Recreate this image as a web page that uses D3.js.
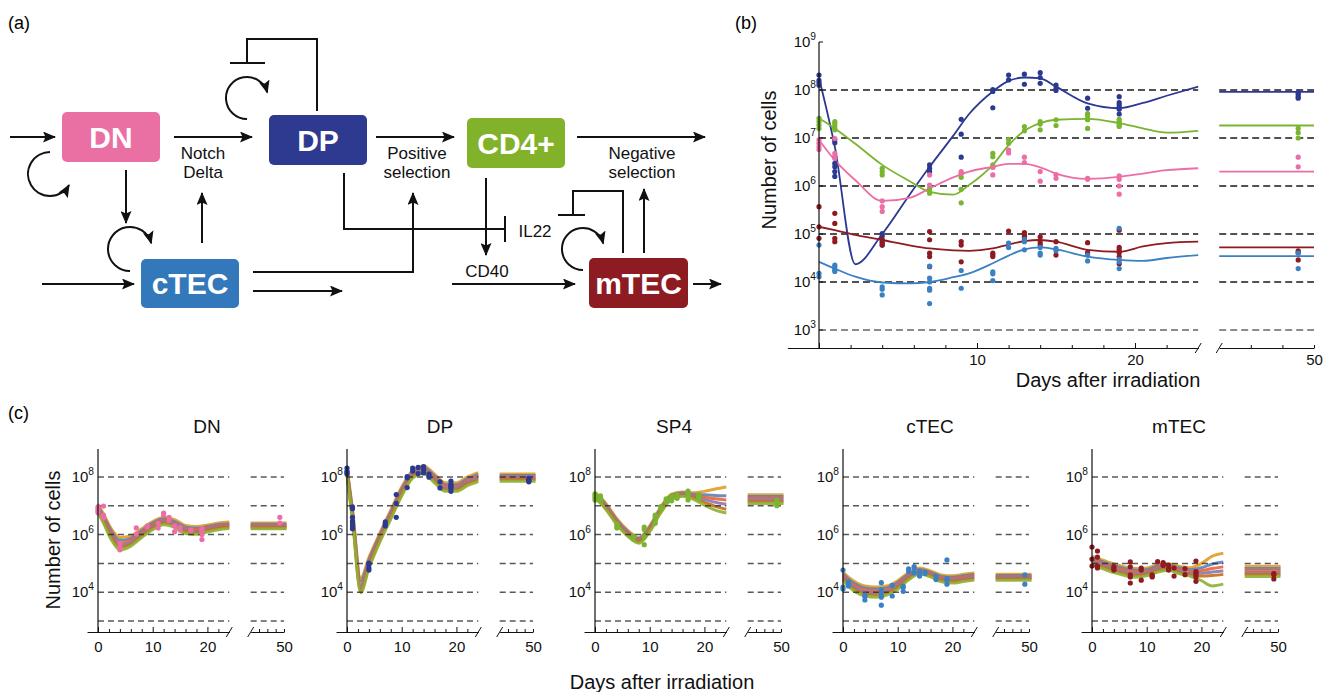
<!DOCTYPE html>
<html>
<head>
<meta charset="utf-8">
<script src="https://cdn.jsdelivr.net/npm/d3@7"></script>
<style>
  body { margin: 0; background: #fff; }
  svg { font-family: "Liberation Sans", Arial, sans-serif; }
</style>
</head>
<body>
<svg id="fig" width="1323" height="692"></svg>
<script>
// Thymus recovery figure: (a) scheme, (b) fitted model, (c) ensemble fits.
// All cell counts are stored as log10 values.

// ── Panel (b): fitted curves ────────────────────────────────────────────────
const FIT_DAYS = [0, 1, 2.3, 4, 5.8, 7, 8.5, 9.5, 11, 12, 13, 14, 15, 17, 19, 20.5, 22, 24];
const FIT_DP   = [8.25, 6.82, 4.37, 5.0, 5.85, 6.4, 7.05, 7.5, 7.97, 8.19, 8.26, 8.24, 8.07, 7.72, 7.62, 7.73, 7.88, 8.07];
const FIT_SP4  = [7.41, 7.2, 6.88, 6.44, 6.09, 5.88, 5.82, 6.02, 6.44, 6.85, 7.15, 7.31, 7.38, 7.4, 7.31, 7.2, 7.11, 7.15];
const FIT_DN   = [6.96, 6.54, 6.12, 5.69, 5.76, 5.95, 6.18, 6.3, 6.4, 6.46, 6.46, 6.39, 6.26, 6.15, 6.19, 6.26, 6.33, 6.37];
const FIT_MTEC = [5.15, 5.08, 4.98, 4.875, 4.76, 4.7, 4.66, 4.65, 4.7, 4.78, 4.85, 4.875, 4.84, 4.67, 4.63, 4.74, 4.81, 4.84];
const FIT_CTEC = [4.42, 4.28, 4.11, 3.99, 3.97, 4.0, 4.1, 4.18, 4.39, 4.55, 4.68, 4.72, 4.68, 4.53, 4.46, 4.44, 4.5, 4.56];
const FIT_LATE = { DP: 7.96, SP4: 7.26, DN: 6.30, mTEC: 4.72, cTEC: 4.54 };

// ── Measurements: [day, [log10 counts]] ────────────────────────────────────
const DOTS_DP = [
  [0, [8.31, 8.2, 8.15, 8.1]], [1, [6.96, 6.9, 6.6, 6.47, 6.4, 6.3, 6.2]], [4, [5.01, 4.96, 4.84, 4.77]],
  [7, [6.44, 6.37, 6.3]], [9, [7.39, 7.08, 6.6]], [11, [8.01, 7.97, 7.63]], [12, [8.31, 8.21]],
  [13, [8.33, 8.12]], [14, [8.36, 8.26, 8.14]], [15, [8.1, 8.03, 7.99]], [17, [7.83, 7.62]],
  [19, [7.86, 7.74, 7.69, 7.64, 7.6, 7.5]], [49, [7.95, 7.91, 7.86, 7.83]]
];
const DOTS_SP4 = [
  [0, [7.41, 7.34, 7.27, 7.2]], [1, [7.34, 7.3, 7.25, 7.2, 7.17]], [4, [6.37, 6.3, 6.23]],
  [7, [5.95, 5.88, 5.85]], [9, [6.26, 6.18, 5.93, 5.65]], [11, [6.68, 6.61, 6.44, 6.39]], [12, [6.97, 6.89]],
  [13, [7.24, 7.15]], [14, [7.34, 7.29, 7.17]], [15, [7.38, 7.26]], [17, [7.51, 7.46, 7.38, 7.2]],
  [19, [7.39, 7.34, 7.31, 7.27, 7.24]], [49, [7.2, 7.11, 7.0]]
];
const DOTS_DN = [
  [0, [6.96, 6.89, 6.82, 6.76]], [1, [6.99, 6.68, 6.6, 6.58]], [4, [5.69, 5.57, 5.47]],
  [7, [6.23, 6.02]], [9, [6.3, 6.26]], [11, [6.39, 6.23]], [12, [6.75, 6.69]],
  [13, [6.6, 6.49]], [14, [6.3, 6.1]], [15, [6.24, 6.16]], [17, [6.16, 6.14]],
  [19, [6.21, 6.14, 6.0, 5.83]], [49, [6.6, 6.4]]
];
const DOTS_MTEC = [
  [0, [5.57, 5.15, 4.91]], [1, [5.43, 5.22, 4.91, 4.84]], [4, [4.89, 4.82, 4.77]],
  [7, [5.05, 4.88, 4.6, 4.53, 4.32]], [9, [4.84, 4.77, 4.42]], [11, [4.6, 4.56, 4.53]], [12, [5.06]],
  [13, [5.03, 4.98, 4.93]], [14, [4.94, 4.82, 4.77]], [15, [4.84, 4.56]], [17, [4.82, 4.61]],
  [19, [5.08, 4.72, 4.67, 4.61, 4.53, 4.38]], [49, [4.65, 4.61, 4.46]]
];
const DOTS_CTEC = [
  [0, [4.77, 4.18, 4.11]], [1, [4.35, 4.3, 4.25, 4.22]], [4, [3.9, 3.85, 3.73]],
  [7, [4.33, 4.08, 4.0, 3.87, 3.83, 3.55]], [9, [4.24, 3.87]], [11, [4.21, 4.17, 4.03]], [12, [4.81, 4.72]],
  [13, [4.89, 4.84, 4.67]], [14, [4.72, 4.6, 4.56]], [15, [4.7, 4.65]], [17, [4.56, 4.44]],
  [19, [5.12, 4.47, 4.42, 4.28]], [49, [4.6, 4.28]]
];

// ── Panel (c): ensemble of fits (log10) ────────────────────────────────────
const ENS_DAYS = [0, 1, 2.5, 4, 6, 8, 10, 12, 14, 16, 18, 20, 22, 24];
const ENS_DN = [
  [7.05, 6.72, 6.18, 5.90, 5.95, 6.20, 6.45, 6.60, 6.52, 6.32, 6.28, 6.33, 6.40, 6.44],
  [6.98, 6.64, 6.10, 5.80, 5.87, 6.14, 6.40, 6.55, 6.45, 6.26, 6.22, 6.28, 6.35, 6.38],
  [6.92, 6.58, 6.02, 5.70, 5.80, 6.08, 6.34, 6.50, 6.40, 6.20, 6.17, 6.24, 6.31, 6.34],
  [6.88, 6.52, 5.95, 5.62, 5.73, 6.02, 6.28, 6.45, 6.36, 6.15, 6.12, 6.19, 6.27, 6.30],
  [6.82, 6.46, 5.88, 5.55, 5.66, 5.96, 6.22, 6.40, 6.30, 6.10, 6.06, 6.14, 6.22, 6.26],
  [6.76, 6.40, 5.80, 5.47, 5.60, 5.90, 6.17, 6.34, 6.25, 6.04, 6.01, 6.09, 6.17, 6.21]
];
const ENS_DP = [
  [8.35, 6.90, 4.50, 5.20, 6.05, 6.85, 7.65, 8.22, 8.38, 8.10, 7.80, 7.80, 8.00, 8.15],
  [8.28, 6.82, 4.38, 5.12, 5.98, 6.78, 7.58, 8.16, 8.32, 8.03, 7.73, 7.73, 7.93, 8.08],
  [8.22, 6.74, 4.25, 5.04, 5.92, 6.72, 7.52, 8.11, 8.27, 7.97, 7.67, 7.67, 7.87, 8.02],
  [8.16, 6.66, 4.15, 4.97, 5.86, 6.66, 7.46, 8.06, 8.22, 7.91, 7.61, 7.62, 7.82, 7.96],
  [8.10, 6.58, 4.05, 4.90, 5.80, 6.60, 7.40, 8.01, 8.17, 7.85, 7.55, 7.56, 7.76, 7.90],
  [8.04, 6.50, 3.98, 4.83, 5.74, 6.54, 7.34, 7.96, 8.12, 7.80, 7.50, 7.50, 7.70, 7.84]
];
const ENS_SP4 = [
  [7.45, 7.30, 6.95, 6.55, 6.15, 5.90, 6.30, 6.95, 7.40, 7.48, 7.45, 7.50, 7.58, 7.65],
  [7.40, 7.25, 6.90, 6.50, 6.10, 5.86, 6.26, 6.91, 7.36, 7.45, 7.40, 7.38, 7.36, 7.35],
  [7.36, 7.21, 6.86, 6.46, 6.06, 5.82, 6.22, 6.87, 7.32, 7.42, 7.36, 7.30, 7.24, 7.20],
  [7.32, 7.17, 6.82, 6.42, 6.02, 5.78, 6.18, 6.83, 7.28, 7.39, 7.32, 7.22, 7.12, 7.05],
  [7.28, 7.13, 6.78, 6.38, 5.98, 5.74, 6.14, 6.79, 7.25, 7.36, 7.27, 7.12, 6.98, 6.88],
  [7.24, 7.09, 6.74, 6.34, 5.94, 5.70, 6.10, 6.75, 7.22, 7.33, 7.22, 7.02, 6.85, 6.75]
];
const ENS_CTEC = [
  [4.70, 4.52, 4.33, 4.22, 4.18, 4.22, 4.40, 4.68, 4.84, 4.74, 4.60, 4.57, 4.62, 4.67],
  [4.64, 4.45, 4.26, 4.15, 4.11, 4.15, 4.34, 4.63, 4.79, 4.69, 4.55, 4.52, 4.57, 4.62],
  [4.58, 4.38, 4.19, 4.08, 4.04, 4.08, 4.28, 4.58, 4.75, 4.65, 4.50, 4.47, 4.52, 4.57],
  [4.52, 4.32, 4.12, 4.01, 3.97, 4.02, 4.22, 4.53, 4.71, 4.61, 4.46, 4.42, 4.47, 4.52],
  [4.46, 4.26, 4.05, 3.94, 3.90, 3.96, 4.16, 4.48, 4.67, 4.57, 4.41, 4.37, 4.42, 4.47],
  [4.40, 4.20, 3.98, 3.87, 3.83, 3.90, 4.10, 4.43, 4.63, 4.53, 4.36, 4.32, 4.37, 4.42]
];
const ENS_MTEC = [
  [5.25, 5.18, 5.08, 4.98, 4.88, 4.82, 4.84, 4.95, 4.98, 4.90, 4.85, 5.00, 5.25, 5.35],
  [5.18, 5.12, 5.02, 4.92, 4.82, 4.76, 4.78, 4.90, 4.93, 4.84, 4.78, 4.85, 4.98, 5.05],
  [5.12, 5.06, 4.96, 4.86, 4.76, 4.70, 4.72, 4.85, 4.88, 4.78, 4.71, 4.75, 4.82, 4.88],
  [5.06, 5.00, 4.90, 4.80, 4.70, 4.64, 4.67, 4.80, 4.84, 4.73, 4.65, 4.66, 4.70, 4.74],
  [5.00, 4.94, 4.84, 4.74, 4.64, 4.58, 4.62, 4.75, 4.80, 4.68, 4.60, 4.56, 4.58, 4.62],
  [4.94, 4.88, 4.78, 4.68, 4.58, 4.52, 4.57, 4.70, 4.76, 4.64, 4.55, 4.40, 4.22, 4.28]
];
const ENS_LATE_DN   = [6.40, 6.36, 6.32, 6.28, 6.24, 6.20];
const ENS_LATE_DP   = [8.10, 8.05, 8.00, 7.95, 7.90, 7.85];
const ENS_LATE_SP4  = [7.38, 7.32, 7.26, 7.20, 7.14, 7.08];
const ENS_LATE_CTEC = [4.62, 4.58, 4.54, 4.50, 4.46, 4.42];
const ENS_LATE_MTEC = [4.90, 4.82, 4.75, 4.68, 4.62, 4.55];

const DECADES = [3, 4, 5, 6, 7, 8];

// ── Styling ────────────────────────────────────────────────────────────────
const FONT = '"Liberation Sans", Arial, sans-serif';
const COLOR = { DP: "#2b3990", SP4: "#79b530", DN: "#ec6ea6", mTEC: "#8e1b21", cTEC: "#3b80c2" };
const ENS_COLORS = ["#e19c24", "#5e81b5", "#eb6235", "#8778b3", "#c56e1a", "#8fb032"];

const SERIES_B = [
  { key: "DP",   fit: FIT_DP,   dots: DOTS_DP },
  { key: "SP4",  fit: FIT_SP4,  dots: DOTS_SP4 },
  { key: "DN",   fit: FIT_DN,   dots: DOTS_DN },
  { key: "mTEC", fit: FIT_MTEC, dots: DOTS_MTEC },
  { key: "cTEC", fit: FIT_CTEC, dots: DOTS_CTEC },
];
const PANELS_C = [
  { key: "DN",   title: "DN",   ens: ENS_DN,   late: ENS_LATE_DN,   dots: DOTS_DN },
  { key: "DP",   title: "DP",   ens: ENS_DP,   late: ENS_LATE_DP,   dots: DOTS_DP },
  { key: "SP4",  title: "SP4",  ens: ENS_SP4,  late: ENS_LATE_SP4,  dots: DOTS_SP4 },
  { key: "cTEC", title: "cTEC", ens: ENS_CTEC, late: ENS_LATE_CTEC, dots: DOTS_CTEC },
  { key: "mTEC", title: "mTEC", ens: ENS_MTEC, late: ENS_LATE_MTEC, dots: DOTS_MTEC },
];
const C_AXIS_X  = [98, 347, 595, 843, 1092];
const C_TITLE_X = [207, 440, 674, 930, 1179];

const pow10 = v => Math.pow(10, v);
const svg = d3.select("#fig");

function powLabel(g, x, y, exp, size) {
  const t = g.append("text").attr("x", x).attr("y", y).attr("text-anchor", "end")
    .attr("font-size", size).attr("fill", "#111");
  t.append("tspan").text("10");
  t.append("tspan").attr("dy", -size * 0.45).attr("font-size", size * 0.68).text(exp);
}

function slash(g, x, y) {
  g.append("line").attr("x1", x - 3).attr("y1", y + 5).attr("x2", x + 3).attr("y2", y - 5)
    .attr("stroke", "#111").attr("stroke-width", 1);
}

function styleAxis(ax, size) {
  ax.attr("font-size", size).attr("font-family", FONT);
  ax.select(".domain").attr("stroke", "#111");
  ax.selectAll(".tick line").attr("stroke", "#111");
  ax.selectAll(".tick text").attr("fill", "#111");
}

// ── Panel labels ───────────────────────────────────────────────────────────
[["(a)", 8, 29], ["(b)", 735, 29], ["(c)", 8, 419]].forEach(([t, x, y]) =>
  svg.append("text").attr("x", x).attr("y", y).attr("font-size", 18).text(t));

// ── Panel (a): scheme ──────────────────────────────────────────────────────
const NODES = [
  { label: "DN",   x: 62,  y: 112, w: 98, h: 50, color: "#ea6fa3" },
  { label: "DP",   x: 269, y: 115, w: 98, h: 50, color: "#2d3a8f" },
  { label: "CD4+", x: 467, y: 118, w: 98, h: 50, color: "#82b12a" },
  { label: "cTEC", x: 141, y: 259, w: 98, h: 49, color: "#3378ba" },
  { label: "mTEC", x: 589, y: 258, w: 99, h: 50, color: "#8d1b22" },
];
const ARROWS = [
  "M10,137H55", "M174,137H252", "M126,170V223", "M42,284H134", "M202,243V193",
  "M376,137H454", "M253,272H413V193", "M253,291H342", "M486,178V255",
  "M452,284H575", "M577,137H705", "M644,253V189", "M693,284H721"
];
const INHIBITS = [
  { path: "M317,111V39H247V63", bar: [230, 63, 265, 63] },
  { path: "M623,253V191H573V215", bar: [558, 215, 585, 215] },
  { path: "M344,173V229H505", bar: [505, 216, 505, 242] },
];
// self-renewal loops: centre, radius, start/end angle (deg), sweep direction
const LOOPS = [
  { cx: 50,  cy: 174, r: 22, a0: -90, a1: 30,  sweep: 0 },
  { cx: 130, cy: 249, r: 22, a0: 90,  a1: 345, sweep: 1 },
  { cx: 247, cy: 98,  r: 21, a0: 90,  a1: 345, sweep: 1 },
  { cx: 583, cy: 249, r: 21, a0: 90,  a1: 345, sweep: 1 },
];
const SCHEME_TEXT = [
  ["Notch", 203, 159], ["Delta", 203, 178],
  ["Positive", 417, 159], ["selection", 417, 178],
  ["Negative", 642, 159], ["selection", 642, 178],
  ["CD40", 487, 277], ["IL22", 535, 237],
];

const gA = svg.append("g");
const defs = svg.append("defs");
defs.append("marker").attr("id", "ah").attr("viewBox", "0 0 13 11")
  .attr("refX", 12).attr("refY", 5.5).attr("markerWidth", 13).attr("markerHeight", 11)
  .attr("markerUnits", "userSpaceOnUse").attr("orient", "auto")
  .append("path").attr("d", "M0,0L13,5.5L0,11L2.5,5.5Z").attr("fill", "#111");

NODES.forEach(n => {
  gA.append("rect").attr("x", n.x).attr("y", n.y).attr("width", n.w).attr("height", n.h)
    .attr("rx", 5).attr("fill", n.color);
  gA.append("text").attr("x", n.x + n.w / 2).attr("y", n.y + n.h / 2 + 10.5)
    .attr("text-anchor", "middle").attr("font-size", 30).attr("font-weight", "bold")
    .attr("fill", "#fff").text(n.label);
});

ARROWS.forEach(d => gA.append("path").attr("d", d).attr("fill", "none")
  .attr("stroke", "#111").attr("stroke-width", 2).attr("marker-end", "url(#ah)"));

INHIBITS.forEach(t => {
  gA.append("path").attr("d", t.path).attr("fill", "none").attr("stroke", "#111").attr("stroke-width", 2);
  gA.append("line").attr("x1", t.bar[0]).attr("y1", t.bar[1]).attr("x2", t.bar[2]).attr("y2", t.bar[3])
    .attr("stroke", "#111").attr("stroke-width", 2);
});

LOOPS.forEach(l => {
  const rad = a => a * Math.PI / 180;
  const x0 = l.cx + l.r * Math.cos(rad(l.a0)), y0 = l.cy + l.r * Math.sin(rad(l.a0));
  const x1 = l.cx + l.r * Math.cos(rad(l.a1)), y1 = l.cy + l.r * Math.sin(rad(l.a1));
  gA.append("path").attr("d", `M${x0},${y0}A${l.r},${l.r} 0 1 ${l.sweep} ${x1},${y1}`)
    .attr("fill", "none").attr("stroke", "#111").attr("stroke-width", 2).attr("marker-end", "url(#ah)");
});

SCHEME_TEXT.forEach(([t, x, y]) => gA.append("text").attr("x", x).attr("y", y)
  .attr("text-anchor", "middle").attr("font-size", 17).attr("fill", "#111").text(t));

// ── Panel (b) ──────────────────────────────────────────────────────────────
const gB = svg.append("g");
const bY  = d3.scaleLog().domain([pow10(2.625), 1e9]).range([348, 42]);
const bX1 = d3.scaleLinear().domain([-2, 24]).range([787.4, 1198.2]);
const bX2 = d3.scaleLinear().domain([44, 50]).range([1219.2, 1314]);
const bX  = d => d > 30 ? bX2(d) : bX1(d);

DECADES.forEach(e => {
  [[0, 24, bX1], [44, 50, bX2]].forEach(([a, b, s]) => {
    gB.append("line").attr("x1", s(a)).attr("x2", s(b))
      .attr("y1", bY(pow10(e))).attr("y2", bY(pow10(e)))
      .attr("stroke", e === 3 ? "#666" : "#1a1a1a").attr("stroke-width", 1.3)
      .attr("stroke-dasharray", "7,4");
  });
});

const lineB = d3.line().x(d => bX(d[0])).y(d => bY(pow10(d[1]))).curve(d3.curveMonotoneX);
SERIES_B.forEach(s => {
  gB.append("path").datum(FIT_DAYS.map((d, i) => [d, s.fit[i]]))
    .attr("d", lineB).attr("fill", "none").attr("stroke", COLOR[s.key]).attr("stroke-width", 1.8);
  gB.append("path").datum([[44, FIT_LATE[s.key]], [50, FIT_LATE[s.key]]])
    .attr("d", lineB).attr("fill", "none").attr("stroke", COLOR[s.key]).attr("stroke-width", 1.8);
});
SERIES_B.forEach(s => {
  const pts = s.dots.flatMap(([day, vals]) => vals.map(v => [day, v]));
  gB.append("g").selectAll("circle").data(pts).join("circle")
    .attr("cx", d => bX(d[0])).attr("cy", d => bY(pow10(d[1]))).attr("r", 2.6)
    .attr("fill", COLOR[s.key]);
});

// axes (b)
gB.append("line").attr("x1", bX1(0)).attr("x2", bX1(0)).attr("y1", bY(1e9)).attr("y2", 348)
  .attr("stroke", "#111").attr("stroke-width", 1.2);
[3, 4, 5, 6, 7, 8, 9].forEach(e => {
  gB.append("line").attr("x1", bX1(0)).attr("x2", bX1(0) + 4)
    .attr("y1", bY(pow10(e))).attr("y2", bY(pow10(e))).attr("stroke", "#111");
  powLabel(gB, bX1(0) - 3, bY(pow10(e)) + 5, String(e), 15);
});

const axB1 = gB.append("g").attr("transform", "translate(0,348)")
  .call(d3.axisBottom(bX1).tickValues(d3.range(0, 24, 2)).tickSize(-3).tickSizeOuter(0)
    .tickPadding(6).tickFormat(d => (d === 10 || d === 20) ? d : ""));
const axB2 = gB.append("g").attr("transform", "translate(0,348)")
  .call(d3.axisBottom(bX2).tickValues([46, 48, 50]).tickSize(-3).tickSizeOuter(0)
    .tickPadding(6).tickFormat(d => d === 50 ? d : ""));
[axB1, axB2].forEach(a => styleAxis(a, 15));
axB1.selectAll(".tick line").filter(d => d % 10 === 0).attr("y2", -5);
slash(gB, bX1(24), 348);
slash(gB, bX2(44), 348);

gB.append("text").attr("transform", "translate(776,160) rotate(-90)")
  .attr("text-anchor", "middle").attr("font-size", 20).attr("fill", "#111").text("Number of cells");
gB.append("text").attr("x", 1108).attr("y", 387).attr("text-anchor", "middle")
  .attr("font-size", 20).attr("fill", "#111").text("Days after irradiation");

// ── Panel (c) ──────────────────────────────────────────────────────────────
const cY = d3.scaleLog().domain([pow10(2.62), pow10(8.97)]).range([632, 449]);

PANELS_C.forEach((p, pi) => {
  const ax = C_AXIS_X[pi];
  const g = svg.append("g");
  const x1 = d3.scaleLinear().domain([-2, 24]).range([ax - 10.94, ax + 131.3]);
  const x2 = d3.scaleLinear().domain([42, 50]).range([ax + 152.7, ax + 186]);
  const xf = d => d > 30 ? x2(d) : x1(d);
  const line = d3.line().x(d => xf(d[0])).y(d => cY(pow10(d[1]))).curve(d3.curveMonotoneX);

  p.ens.forEach((vals, i) => {
    g.append("path").datum(ENS_DAYS.map((d, j) => [d, vals[j]])).attr("d", line)
      .attr("fill", "none").attr("stroke", ENS_COLORS[i]).attr("stroke-width", 3).attr("opacity", 0.9);
  });
  p.late.forEach((v, i) => {
    g.append("path").datum([[42, v], [50.6, v]]).attr("d", line)
      .attr("fill", "none").attr("stroke", ENS_COLORS[i]).attr("stroke-width", 3).attr("opacity", 0.9);
  });

  DECADES.forEach(e => {
    [[0, 24, x1], [42, 50, x2]].forEach(([a, b, s]) => {
      g.append("line").attr("x1", s(a)).attr("x2", s(b))
        .attr("y1", cY(pow10(e))).attr("y2", cY(pow10(e)))
        .attr("stroke", "#222").attr("stroke-opacity", 0.75).attr("stroke-width", 1.5)
        .attr("stroke-dasharray", "6,4");
    });
  });

  const pts = p.dots.flatMap(([day, vals]) => vals.map(v => [day, v]));
  g.append("g").selectAll("circle").data(pts).join("circle")
    .attr("cx", d => xf(d[0])).attr("cy", d => cY(pow10(d[1]))).attr("r", 2.6)
    .attr("fill", COLOR[p.key]);

  g.append("line").attr("x1", ax).attr("x2", ax).attr("y1", 449).attr("y2", 632)
    .attr("stroke", "#111").attr("stroke-width", 1.2);
  [4, 6, 8].forEach(e => powLabel(g, ax - 4, cY(pow10(e)) + 5, String(e), 15));

  const a1 = g.append("g").attr("transform", "translate(0,632)")
    .call(d3.axisBottom(x1).tickValues(d3.range(0, 24, 2)).tickSize(-3).tickSizeOuter(0)
      .tickPadding(9).tickFormat(d => d % 10 === 0 ? d : ""));
  const a2 = g.append("g").attr("transform", "translate(0,632)")
    .call(d3.axisBottom(x2).tickValues([44, 46, 48, 50]).tickSize(-3).tickSizeOuter(0)
      .tickPadding(9).tickFormat(d => d === 50 ? d : ""));
  [a1, a2].forEach(a => styleAxis(a, 15));
  a1.selectAll(".tick line").filter(d => d % 10 === 0).attr("y2", -5);
  slash(g, x1(24), 632);
  slash(g, x2(42), 632);

  g.append("text").attr("x", C_TITLE_X[pi]).attr("y", 433).attr("text-anchor", "middle")
    .attr("font-size", 19).attr("fill", "#111").text(p.title);
});

svg.append("text").attr("transform", "translate(60,540) rotate(-90)")
  .attr("text-anchor", "middle").attr("font-size", 20).attr("fill", "#111").text("Number of cells");
svg.append("text").attr("x", 662).attr("y", 689).attr("text-anchor", "middle")
  .attr("font-size", 20).attr("fill", "#111").text("Days after irradiation");
</script>
</body>
</html>
